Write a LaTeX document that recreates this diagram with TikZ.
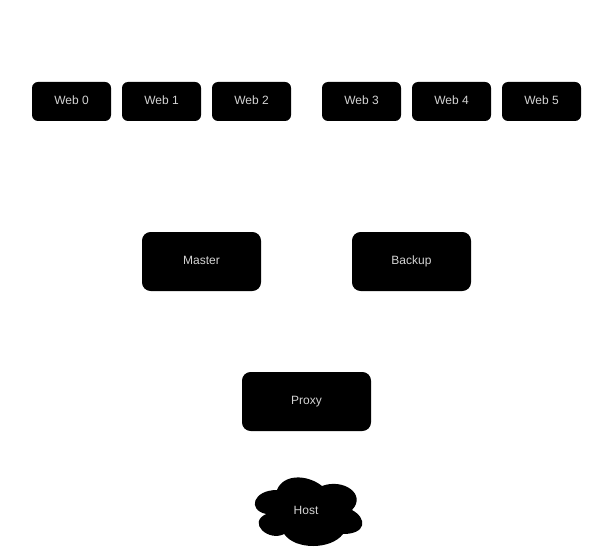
\documentclass[tikz,border=0pt]{standalone}
\usepackage{fontspec}
\setmainfont{Liberation Sans}
\definecolor{lbl}{HTML}{D4D4D4}
\begin{document}
\begin{tikzpicture}[x=0.75pt,y=-0.75pt,
  box/.style={fill=black,draw=none,rounded corners=4.5pt,text=lbl,font=\fontsize{9}{10}\selectfont,inner sep=0pt,text height=6.6pt,text depth=1.6pt},
  web/.style={box,minimum width=59.25pt,minimum height=29.25pt},
  big/.style={box,rounded corners=6.5pt,minimum width=89.25pt,minimum height=44.25pt},
  lbltext/.style={text=lbl,font=\fontsize{9}{10}\selectfont,text height=6.6pt,text depth=1.6pt}]
\useasboundingbox (0,0) rectangle (613,552);
\node[web] (w0) at (71.5,101.5) {Web 0};
\node[web] (w1) at (161.5,101.5) {Web 1};
\node[web] (w2) at (251.5,101.5) {Web 2};
\node[web] (w3) at (361.5,101.5) {Web 3};
\node[web] (w4) at (451.5,101.5) {Web 4};
\node[web] (w5) at (541.5,101.5) {Web 5};
\node[big] (master) at (201.5,261.5) {Master};
\node[big] (backup) at (411.5,261.5) {Backup};
\node[box,rounded corners=6.5pt,minimum width=96.75pt,minimum height=44.25pt] (proxy) at (306.5,401.5) {Proxy};
% cloud (draw.io style), box x0=247, y0=470, w=120, h=80
\begin{scope}[shift={(247,470)},x=0.75*120pt,y=-0.75*80pt]
\fill[black] (0.25,0.25) .. controls (0.05,0.25) and (0,0.5) .. (0.16,0.55)
  .. controls (0,0.66) and (0.18,0.9) .. (0.31,0.8)
  .. controls (0.4,1) and (0.7,1) .. (0.8,0.8)
  .. controls (1,0.8) and (1,0.6) .. (0.875,0.5)
  .. controls (1,0.3) and (0.8,0.1) .. (0.625,0.2)
  .. controls (0.5,0.05) and (0.3,0.05) .. (0.25,0.25) -- cycle;
\end{scope}
\node[lbltext] (host) at (306,511) {Host};
\end{tikzpicture}
\end{document}
